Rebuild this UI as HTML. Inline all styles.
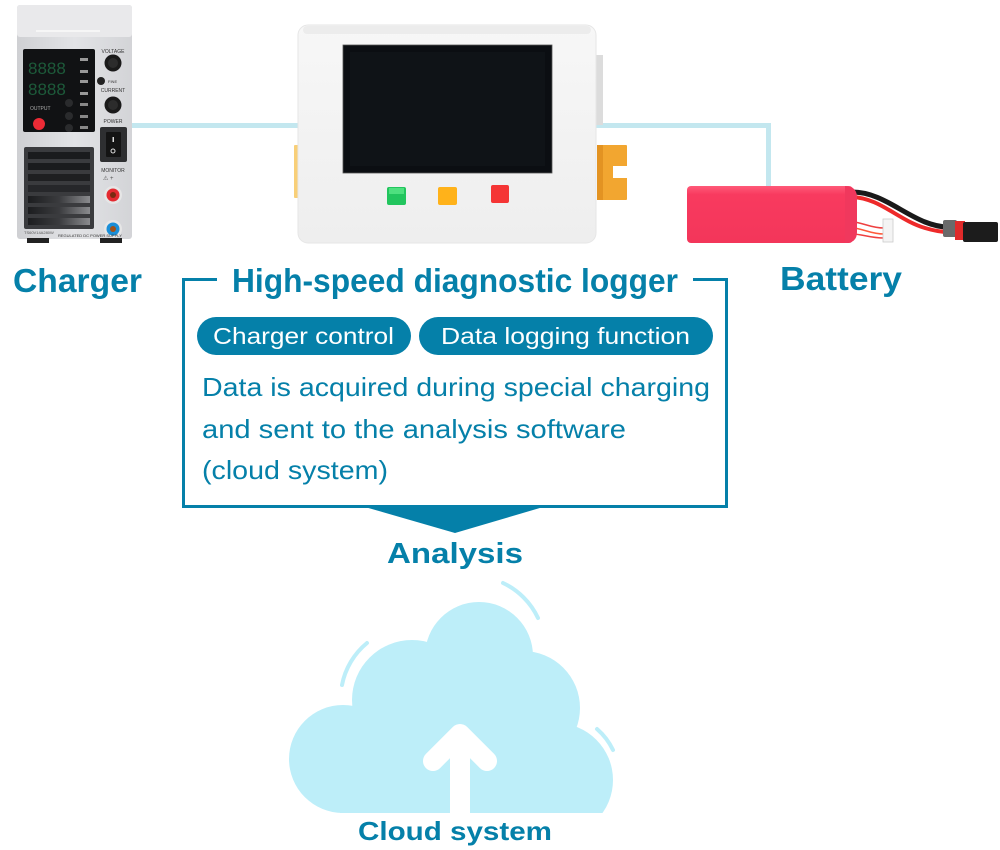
<!DOCTYPE html>
<html><head><meta charset="utf-8"><style>
html,body{margin:0;padding:0;background:#fff;}
svg{display:block;}
text{font-family:"Liberation Sans",sans-serif;}
</style></head><body>
<svg width="1000" height="850" viewBox="0 0 1000 850" xmlns="http://www.w3.org/2000/svg">
<defs>
<linearGradient id="lg" x1="0" y1="0" x2="0" y2="1"><stop offset="0" stop-color="#f7f7f7"/><stop offset="1" stop-color="#eeeeee"/></linearGradient>
<linearGradient id="bat" x1="0" y1="0" x2="0" y2="1"><stop offset="0" stop-color="#ff5a78"/><stop offset="0.15" stop-color="#f83a5f"/><stop offset="1" stop-color="#f3365a"/></linearGradient>
<linearGradient id="vent" x1="0" y1="0" x2="1" y2="0"><stop offset="0" stop-color="#1c1d1f"/><stop offset="0.5" stop-color="#3a3b3e"/><stop offset="1" stop-color="#8a8b8e"/></linearGradient>
<linearGradient id="chg" x1="0" y1="0" x2="1" y2="0"><stop offset="0" stop-color="#cfd0d3"/><stop offset="0.5" stop-color="#e2e3e6"/><stop offset="1" stop-color="#d3d4d7"/></linearGradient>
<clipPath id="cc"><rect x="250" y="560" width="400" height="253"/></clipPath>
</defs>

<!-- connector lines -->
<rect x="128" y="123" width="172" height="5" fill="#c3e7ef"/>
<rect x="594" y="123" width="177" height="5" fill="#c3e7ef"/>
<rect x="766" y="123" width="5" height="65" fill="#c3e7ef"/>

<!-- Charger -->
<rect x="17" y="5" width="115" height="234" rx="3" fill="url(#chg)"/>
<rect x="17" y="5" width="115" height="32" rx="3" fill="#e9e9eb"/>
<rect x="36" y="30" width="64" height="2" fill="#f6f6f6"/>
<rect x="23" y="49" width="72" height="83" rx="2" fill="#111214"/>
<text x="28" y="74" font-size="17" fill="#1d5a3a" font-family="Liberation Mono, monospace">8888</text>
<text x="28" y="95" font-size="17" fill="#1d5a3a" font-family="Liberation Mono, monospace">8888</text>
<rect x="80" y="58" width="8" height="3" fill="#999"/>
<rect x="80" y="70" width="8" height="3" fill="#999"/>
<rect x="80" y="80" width="8" height="3" fill="#999"/>
<rect x="80" y="92" width="8" height="3" fill="#999"/>
<rect x="80" y="103" width="8" height="3" fill="#888"/>
<rect x="80" y="115" width="8" height="3" fill="#888"/>
<rect x="80" y="126" width="8" height="3" fill="#888"/>
<text x="30" y="110" font-size="5" fill="#aaa">OUTPUT</text>
<circle cx="39" cy="124" r="6" fill="#ee2b36"/>
<circle cx="69" cy="103" r="4" fill="#2a2b2d"/>
<circle cx="69" cy="116" r="4" fill="#2a2b2d"/>
<circle cx="69" cy="128" r="4" fill="#2a2b2d"/>
<text x="113" y="53" font-size="5" fill="#333" text-anchor="middle">VOLTAGE</text>
<circle cx="113" cy="63" r="8.5" fill="#1a1a1a"/><circle cx="113" cy="63" r="5" fill="#2c2c2c"/>
<circle cx="101" cy="81" r="4" fill="#222"/>
<text x="108" y="83" font-size="4" fill="#333">FINE</text>
<text x="113" y="92" font-size="5" fill="#333" text-anchor="middle">CURRENT</text>
<circle cx="113" cy="105" r="8.5" fill="#1a1a1a"/><circle cx="113" cy="105" r="5" fill="#2c2c2c"/>
<text x="113" y="123" font-size="5" fill="#333" text-anchor="middle">POWER</text>
<rect x="100" y="127" width="27" height="35" rx="2" fill="#2e2f31"/>
<rect x="106" y="132" width="15" height="25" rx="1" fill="#141414"/>
<rect x="112.5" y="137" width="1.5" height="5" fill="#ddd"/>
<circle cx="113" cy="151" r="2" fill="none" stroke="#ddd" stroke-width="1"/>
<rect x="24" y="147" width="70" height="82" rx="2" fill="#3a3b3e"/>
<rect x="28" y="152" width="62" height="7" fill="#1a1b1d"/>
<rect x="28" y="163" width="62" height="7" fill="#1a1b1d"/>
<rect x="28" y="174" width="62" height="7" fill="#1e1f21"/>
<rect x="28" y="185" width="62" height="7" fill="#26272a"/>
<rect x="28" y="196" width="62" height="7" fill="url(#vent)"/>
<rect x="28" y="207" width="62" height="7" fill="url(#vent)"/>
<rect x="28" y="218" width="62" height="7" fill="url(#vent)"/>
<text x="113" y="172" font-size="5" fill="#333" text-anchor="middle">MONITOR</text>
<text x="103" y="180" font-size="6" fill="#555">⚠ +</text>
<circle cx="113" cy="195" r="9" fill="#e6e6e6"/><circle cx="113" cy="195" r="6.5" fill="#e42a30"/><circle cx="113" cy="195" r="3" fill="#7a2a10"/>
<circle cx="113" cy="229" r="9" fill="#e6e6e6"/><circle cx="113" cy="229" r="6.5" fill="#1a8fd8"/><circle cx="113" cy="229" r="3" fill="#a0521a"/>
<text x="24" y="234" font-size="4" fill="#555">TS60V14A280W</text>
<text x="58" y="237" font-size="4" fill="#333">REGULATED DC POWER SUPPLY</text>
<rect x="27" y="238" width="22" height="5" fill="#222"/>
<rect x="100" y="238" width="22" height="5" fill="#222"/>

<!-- Logger -->
<rect x="294" y="145" width="7" height="53" rx="1" fill="#f8cf78"/>
<rect x="595" y="55" width="8" height="70" fill="#dcdcdc"/>
<rect x="597" y="145" width="30" height="55" rx="1" fill="#f2a630"/>
<rect x="597" y="145" width="6" height="55" fill="#e39322"/>
<rect x="613" y="166" width="15" height="12" fill="#ffffff"/>
<rect x="298" y="25" width="298" height="218" rx="10" fill="url(#lg)" stroke="#e6e6e6" stroke-width="1"/>
<rect x="303" y="26" width="288" height="8" rx="4" fill="#ececec"/>
<rect x="343" y="45" width="209" height="128" fill="#0b0e12" stroke="#555" stroke-width="0.8"/>
<rect x="350" y="52" width="195" height="114" fill="#0f1317"/>
<rect x="387" y="187" width="19" height="18" rx="2" fill="#22c55e"/>
<rect x="389" y="188" width="15" height="6" fill="#4ee07f"/>
<rect x="438" y="187" width="19" height="18" rx="2" fill="#ffb21a"/>
<rect x="491" y="185" width="18" height="18" rx="2" fill="#f53535"/>

<!-- Battery -->
<path d="M852,192 C880,192 900,212 925,222 C935,226 942,227 948,227" fill="none" stroke="#1a1a1a" stroke-width="5"/>
<path d="M852,197 C880,198 898,220 925,228 C935,231 942,232 948,232" fill="none" stroke="#ee2a2a" stroke-width="4"/>
<path d="M852,222 C862,222 870,228 884,228" fill="none" stroke="#ee4040" stroke-width="1.5"/>
<path d="M852,228 C862,228 870,234 884,234" fill="none" stroke="#ff5a3a" stroke-width="1.5"/>
<path d="M852,234 C862,234 870,238 884,238" fill="none" stroke="#ee4040" stroke-width="1.5"/>
<rect x="883" y="219" width="10" height="23" fill="#f4f4f4" stroke="#ccc" stroke-width="0.8"/>
<rect x="943" y="220" width="14" height="17" rx="2" fill="#6a6a6a"/>
<rect x="955" y="221" width="10" height="19" fill="#e02a2a"/>
<rect x="963" y="222" width="35" height="20" rx="2" fill="#1c1c1c"/>
<rect x="687" y="186" width="166" height="57" rx="4" fill="url(#bat)"/>
<path d="M845,186 Q858,186 857,200 L857,232 Q857,243 845,243 Z" fill="#f0385d"/>

<!-- Labels -->
<text x="13" y="292" font-size="33" font-weight="bold" fill="#0580a9" textLength="129" lengthAdjust="spacingAndGlyphs">Charger</text>
<text x="780" y="290" font-size="33" font-weight="bold" fill="#0580a9" textLength="122" lengthAdjust="spacingAndGlyphs">Battery</text>

<!-- Box -->
<path d="M217,279.5 H183.5 V506.5 H726.5 V279.5 H693" fill="none" stroke="#0580a9" stroke-width="3"/>
<text x="232" y="292" font-size="33" font-weight="bold" fill="#0580a9" textLength="446" lengthAdjust="spacingAndGlyphs">High-speed diagnostic logger</text>
<rect x="197" y="317" width="214" height="38" rx="19" fill="#0580a9"/>
<rect x="419" y="317" width="294" height="38" rx="19" fill="#0580a9"/>
<text x="213" y="344" font-size="23" fill="#ffffff" textLength="181" lengthAdjust="spacingAndGlyphs">Charger control</text>
<text x="441" y="344" font-size="23" fill="#ffffff" textLength="249" lengthAdjust="spacingAndGlyphs">Data logging function</text>
<text x="202" y="396" font-size="26" fill="#0580a9" textLength="508" lengthAdjust="spacingAndGlyphs">Data is acquired during special charging</text>
<text x="202" y="438" font-size="26" fill="#0580a9" textLength="424" lengthAdjust="spacingAndGlyphs">and sent to the analysis software</text>
<text x="202" y="479" font-size="26" fill="#0580a9" textLength="186" lengthAdjust="spacingAndGlyphs">(cloud system)</text>
<polygon points="358,505 550,505 455,533" fill="#0580a9"/>
<text x="387" y="563" font-size="29" font-weight="bold" fill="#0580a9" textLength="136" lengthAdjust="spacingAndGlyphs">Analysis</text>

<!-- Cloud -->
<g clip-path="url(#cc)" fill="#bdeef9">
<circle cx="479" cy="656" r="54"/>
<circle cx="412" cy="700" r="60"/>
<circle cx="343" cy="759" r="54"/>
<circle cx="523" cy="708" r="57"/>
<circle cx="556" cy="780" r="57"/>
<rect x="365" y="705" width="190" height="115"/>
<rect x="340" y="760" width="30" height="60"/>
<rect x="430" y="650" width="95" height="70"/>
</g>
<g fill="none" stroke="#bdeef9" stroke-width="4" stroke-linecap="round">
<path d="M503,583 A73,73 0 0 1 538,618"/>
<path d="M367,643 A72,72 0 0 0 342,685"/>
<path d="M597,729 A65,65 0 0 1 613,750"/>
</g>
<rect x="450" y="734" width="20" height="79" fill="#ffffff"/>
<polyline points="433,761 460,734 487,761" fill="none" stroke="#ffffff" stroke-width="20" stroke-linecap="round" stroke-linejoin="round"/>
<text x="358" y="840" font-size="26" font-weight="bold" fill="#0580a9" textLength="194" lengthAdjust="spacingAndGlyphs">Cloud system</text>
</svg>
</body></html>
